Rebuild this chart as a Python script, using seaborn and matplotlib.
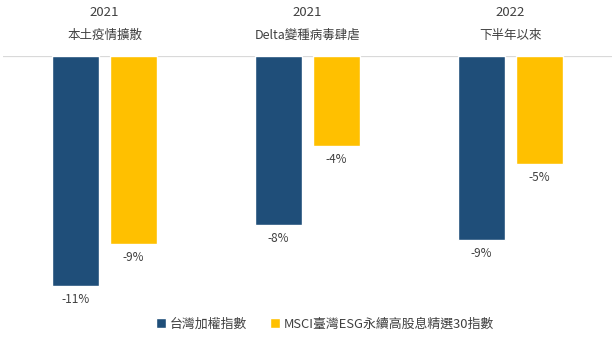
import matplotlib
matplotlib.use("Agg")
import matplotlib.pyplot as plt
import matplotlib.transforms as mtransforms
import seaborn as sns
import pandas as pd

# ---- data ----
periods = ["本土疫情擴散", "Delta變種病毒肆虐", "下半年以來"]
years = ["2021", "2021", "2022"]
series_names = ["台灣加權指數", "MSCI臺灣ESG永續高股息精選30指數"]
taiex = [-11.0, -8.1, -8.8]
msci_esg = [-9.0, -4.3, -5.2]
colors = ["#1F4E79", "#FFC000"]

df = pd.DataFrame({
    "period": periods * 2,
    "series": [series_names[0]] * 3 + [series_names[1]] * 3,
    "value": taiex + msci_esg,
})

sns.set_theme(style="white")
plt.rcParams["font.family"] = ["Noto Sans CJK TC", "DejaVu Sans"]
text_color = "#404040"

fig = plt.figure(figsize=(6.16, 3.40), dpi=100)
ax = fig.add_axes([3 / 616, 1 - 317.4 / 340, 609 / 616, (317.4 - 55.5) / 340])

sns.barplot(data=df, x="period", y="value", hue="series", order=periods,
            hue_order=series_names, palette=colors, width=0.57, gap=0.2,
            saturation=1, ax=ax, zorder=3)

ax.set_xlim(-0.5, 2.5)
ax.set_ylim(-12.5, 0)
ax.axhline(0, color="#D9D9D9", lw=1.6, zorder=2)

for cont in ax.containers:
    ax.bar_label(cont, labels=[f"{v:.0f}%" for v in cont.datavalues],
                 padding=5, fontsize=8.5, color=text_color)

for s in ax.spines.values():
    s.set_visible(False)
ax.set_xticks([])
ax.set_yticks([])
ax.set_xlabel("")
ax.set_ylabel("")

trans = mtransforms.blended_transform_factory(ax.transData, fig.transFigure)
for i, (yr, p) in enumerate(zip(years, periods)):
    ax.text(i, 1 - 13 / 340, yr, transform=trans, ha="center", va="center",
            fontsize=9.5, color=text_color)
    ax.text(i, 1 - 35 / 340, p, transform=trans, ha="center", va="center",
            fontsize=9, color=text_color)

handles, labels = ax.get_legend_handles_labels()
ax.legend(handles, labels, loc="center", bbox_to_anchor=(0.528, 1 - 324 / 340),
          bbox_transform=fig.transFigure, ncol=2, frameon=False,
          handlelength=0.75, handleheight=0.75, handletextpad=0.3,
          columnspacing=1.8, fontsize=9.3, labelcolor=text_color)

fig.savefig("out.png", dpi=100)
